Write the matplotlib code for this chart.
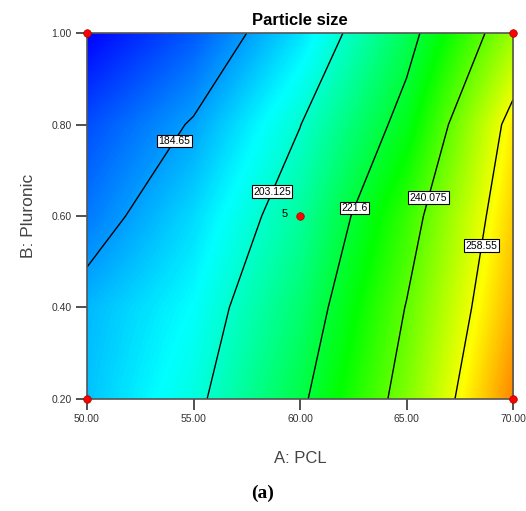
import numpy as np
import matplotlib
matplotlib.use("Agg")
import matplotlib.pyplot as plt
from matplotlib.colors import LinearSegmentedColormap

plt.rcParams['font.family'] = ['Liberation Sans', 'DejaVu Sans']

# factor levels (grid of the response surface)
pcl = [50.0, 55.0, 60.0, 65.0, 70.0]
pluronic = [0.2, 0.4, 0.6, 0.8, 1.0]

# particle size, rows = pluronic, cols = pcl
size_02 = [189.5, 200.7, 219.7, 244.4, 275.5]
size_04 = [188.1, 197.2, 214.8, 240.5, 270.0]
size_06 = [180.3, 192.3, 209.2, 235.1, 266.4]
size_08 = [174.8, 185.5, 202.9, 225.5, 262.5]
size_10 = [165.2, 176.1, 193.2, 217.8, 248.0]

levels = [184.65, 203.125, 221.6, 240.075, 258.55]
level_text = ["184.65", "203.125", "221.6", "240.075", "258.55"]
label_pos = [(53.9, 0.77), (58.6, 0.655), (61.6, 0.635), (65.9, 0.642), (68.7, 0.534)]

# design points
design_pcl = [50, 50, 70, 70, 60]
design_plu = [0.2, 1.0, 0.2, 1.0, 0.6]

x_ticks = [50, 55, 60, 65, 70]
y_ticks = [0.2, 0.4, 0.6, 0.8, 1.0]

Z = np.array([size_02, size_04, size_06, size_08, size_10])
A, B = np.meshgrid(pcl, pluronic)

cmap = LinearSegmentedColormap.from_list(
    "dx", ["#0000ff", "#00ffff", "#00ff00", "#ffff00", "#ff0000"])

fig = plt.figure(figsize=(5.26, 5.11), dpi=100)
ax = fig.add_axes([0.1654, 0.2192, 0.8099, 0.7162])

# grid values sit at pixel centres, so pad the extent by half a cell
dx = (pcl[1] - pcl[0]) / 2
dy = (pluronic[1] - pluronic[0]) / 2
ax.imshow(Z, origin='lower', aspect='auto', interpolation='bilinear',
          extent=[pcl[0] - dx, pcl[-1] + dx, pluronic[0] - dy, pluronic[-1] + dy],
          cmap=cmap, vmin=165, vmax=292)
cs = ax.contour(A, B, Z, levels=levels, colors='black', linewidths=1.0)
labels = ax.clabel(cs, fmt=dict(zip(levels, level_text)), manual=label_pos,
                   inline=False, fontsize=7.5)
for t in labels:
    t.set_rotation(0)
    t.set_bbox(dict(facecolor='white', edgecolor='black', pad=1.0, linewidth=0.8))
    t.set_zorder(5)

ax.scatter(design_pcl, design_plu, s=30, color='red', edgecolor='#aa0000',
           linewidth=0.5, zorder=6, clip_on=False)
ax.text(59.4, 0.605, "5", fontsize=8, ha='right', va='center', zorder=6)

ax.set_xlim(50, 70)
ax.set_ylim(0.2, 1.0)
ax.set_xticks(x_ticks)
ax.set_xticklabels([f"{v:.2f}" for v in x_ticks])
ax.set_yticks(y_ticks)
ax.set_yticklabels([f"{v:.2f}" for v in y_ticks])
ax.tick_params(direction='out', length=8, width=1.2, colors='#333333',
               labelsize=7.5, pad=3)
for sp in ax.spines.values():
    sp.set_color('#555555')
    sp.set_linewidth(1.2)

ax.set_xlabel("A: PCL", fontsize=12, color='#444444', labelpad=19)
ax.set_ylabel("B: Pluronic", fontsize=12.5, color='#444444', labelpad=11)
ax.set_title("Particle size", fontsize=12, fontweight='bold', pad=6)

fig.text(0.5, 0.025, "(a)", fontsize=14, fontweight='bold',
         family=['Liberation Serif', 'DejaVu Serif'], ha='center')

fig.savefig("out.png", dpi=100)
